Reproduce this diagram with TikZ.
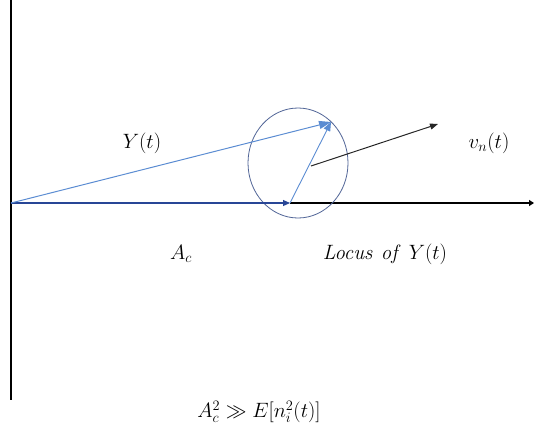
\documentclass[tikz,border=0pt]{standalone}
\usetikzlibrary{arrows.meta}
\begin{document}
\begin{tikzpicture}[x=1pt,y=-1pt,
  lbl/.style={font=\fontsize{22.5}{26}\selectfont, inner sep=0pt},
  tip/.style={-{Triangle[length=7pt,width=6pt]}}]
\definecolor{ltblue}{RGB}{91,140,210}
\definecolor{dkblue}{RGB}{40,70,150}
\definecolor{circ}{RGB}{80,100,150}
\path[use as bounding box] (0,0) rectangle (534,431);
% coordinates
\coordinate (O) at (11,203);
\coordinate (top) at (11,0);
\coordinate (bot) at (11,400);
\coordinate (xend) at (534,203);
\coordinate (A) at (290,203);
\coordinate (Y) at (331,122);
\coordinate (C) at (298,163);
\coordinate (N0) at (311,166);
\coordinate (N1) at (438,124);
% axes
\draw[line width=1.6pt] (top) -- (bot);
\draw[line width=1.6pt,-{Triangle[length=5pt,width=6pt]}] (A) -- (xend);
% locus circle
\draw[circ, line width=0.8pt] (C) ellipse [x radius=50, y radius=55];
% carrier
\draw[dkblue, line width=1.1pt, tip] (O) -- (A);
% resultant
\draw[ltblue, line width=1pt, -{Triangle[length=12pt,width=8pt]}] (O) -- (Y);
% noise phasor
\draw[ltblue, line width=0.9pt, -{Triangle[length=9pt,width=7pt]}] (A) -- (Y);
% noise vector
\draw[black!85, line width=1pt, -{Triangle[length=8pt,width=6pt]}] (N0) -- (N1);
% labels
\node[lbl] (ly) at (142,143) {$Y(t)$};
\node[lbl] (lv) at (489,143) {$v_n(t)$};
\node[lbl] (la) at (181,254) {$A_c$};
\node[lbl] (ll) at (385,254) {$\mathit{Locus\ of}\ Y(t)$};
\node[lbl] (lf) at (259,412) {$A_c^2 \gg E[n_i^2(t)]$};
\end{tikzpicture}
\end{document}
